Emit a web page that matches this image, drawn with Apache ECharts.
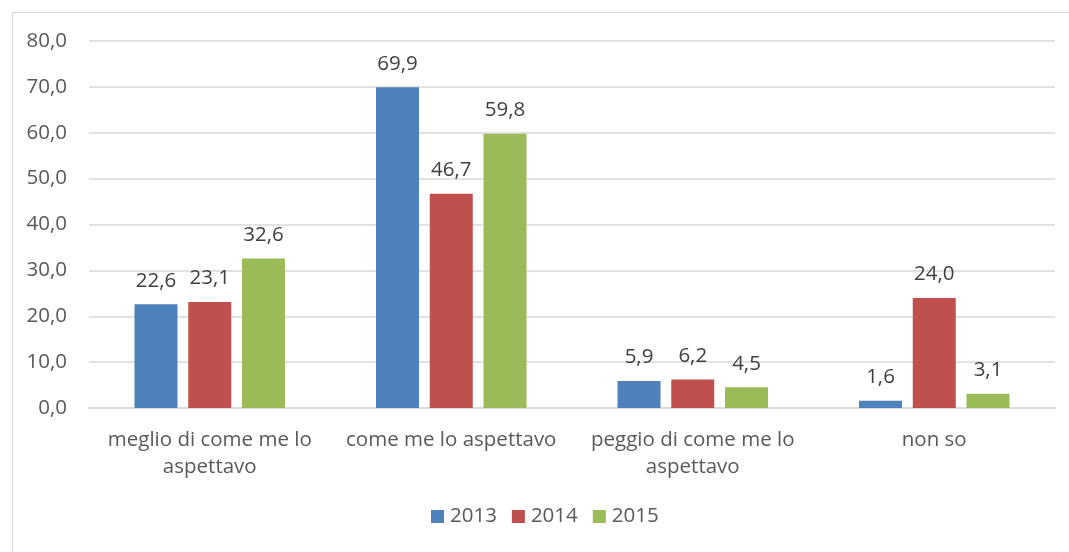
<!DOCTYPE html>
<html>
<head>
<meta charset="utf-8">
<script src="https://cdn.jsdelivr.net/npm/echarts@6/dist/echarts.min.js"></script>
<style>
  html, body { margin: 0; padding: 0; background: #fff; }
  #box { position: absolute; left: 12px; top: 12px; width: 1070px; height: 545px; border: 1px solid #d9d9d9; border-right: none; border-bottom: none; }
  #chart { position: absolute; left: 0; top: 0; width: 1069px; height: 552px; }
</style>
</head>
<body>
<div id="box"></div>
<div id="chart"></div>
<script>
const categories = ['meglio di come me lo\naspettavo', 'come me lo aspettavo', 'peggio di come me lo\naspettavo', 'non so'];
const years = ['2013', '2014', '2015'];
const values2013 = [22.6, 69.9, 5.9, 1.6];
const values2014 = [23.1, 46.7, 6.2, 24.0];
const values2015 = [32.6, 59.8, 4.5, 3.1];
const colors = ['#4F81BD', '#C0504D', '#9BBB59'];

const fmt = (v) => v.toFixed(1).replace('.', ',');
const font = '"Open Sans", "Noto Sans", sans-serif';
const fsize = 20.5;

const makeSeries = (name, data, color) => ({
  name,
  type: 'bar',
  data,
  barWidth: 43,
  barGap: '25%',
  itemStyle: { color },
  label: {
    show: true,
    position: 'top',
    distance: 13,
    formatter: (p) => fmt(p.value),
    fontFamily: font,
    fontSize: fsize,
    color: '#404040',
  },
});

const chart = echarts.init(document.getElementById('chart'));
chart.setOption({
  animation: false,
  textStyle: { fontFamily: font },
  grid: { left: 89, right: 14, top: 41, bottom: 144 },
  legend: {
    bottom: 20,
    left: 426,
    itemWidth: 13,
    itemHeight: 13,
    itemGap: 15,
    icon: 'rect',
    textStyle: { fontFamily: font, fontSize: fsize, color: '#595959', padding: [0, 0, 0, 1] },
    data: years,
  },
  xAxis: {
    type: 'category',
    data: categories,
    axisTick: { show: false },
    axisLine: { lineStyle: { color: '#d9d9d9', width: 1.5 } },
    axisLabel: { fontFamily: font, fontSize: fsize, color: '#595959', margin: 19, lineHeight: 27, interval: 0 },
  },
  yAxis: {
    type: 'value',
    min: 0,
    max: 80,
    interval: 10,
    axisLine: { show: false },
    axisTick: { show: false },
    axisLabel: { formatter: (v) => fmt(v), fontFamily: font, fontSize: fsize, color: '#595959', margin: 22 },
    splitLine: { lineStyle: { color: '#d9d9d9', width: 1.5 } },
  },
  series: [
    makeSeries(years[0], values2013, colors[0]),
    makeSeries(years[1], values2014, colors[1]),
    makeSeries(years[2], values2015, colors[2]),
  ],
});
</script>
</body>
</html>
